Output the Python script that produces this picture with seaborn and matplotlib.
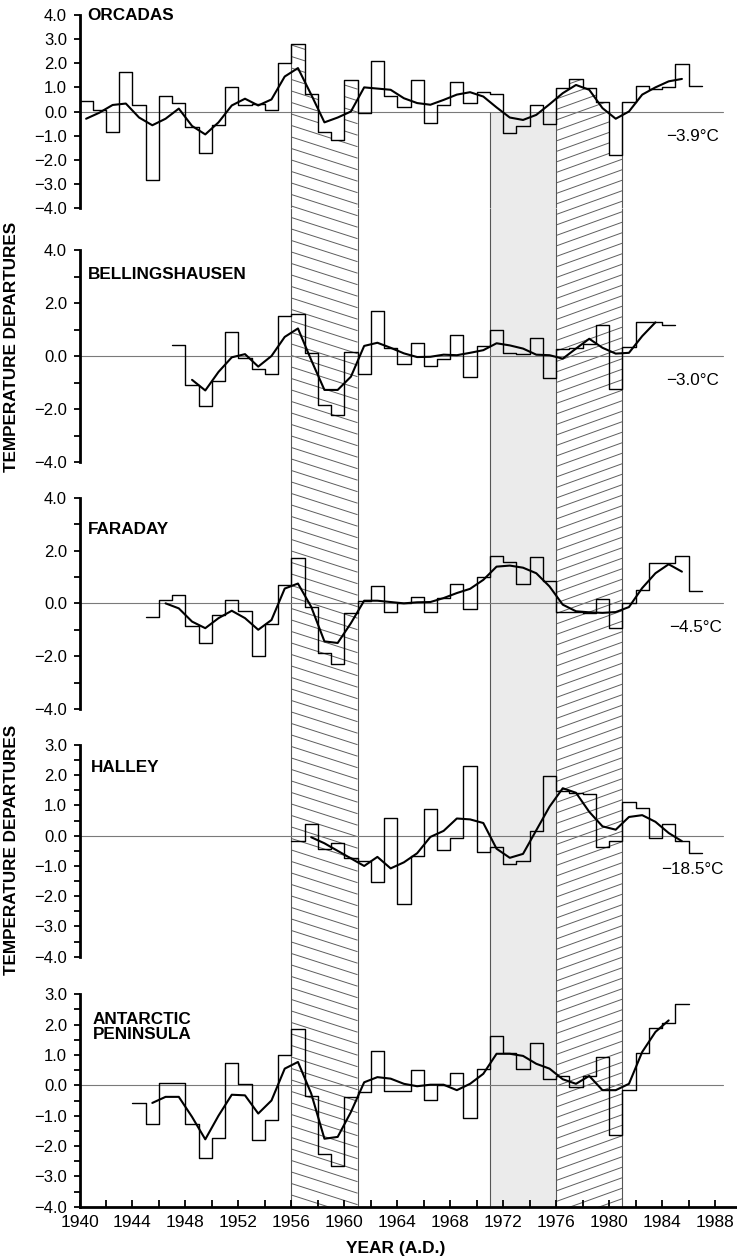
import numpy as np
import matplotlib
matplotlib.use("Agg")
import matplotlib.pyplot as plt
from matplotlib.collections import LineCollection
from matplotlib.patches import Rectangle, Polygon
from matplotlib.ticker import MultipleLocator, FuncFormatter
import seaborn as sns

# ------------------------------------------------------------------ data
stations = ["ORCADAS", "BELLINGSHAUSEN", "FARADAY", "HALLEY", "ANTARCTIC\nPENINSULA"]
mean_labels = ["\u22123.9\u00b0C", "\u22123.0\u00b0C", "\u22124.5\u00b0C", "\u221218.5\u00b0C", None]

orcadas_first_year = 1940
orcadas_annual = [0.45, 0.05, -0.84, 1.63, 0.26, -2.83, 0.65, 0.37, -0.66, -1.74,
                  -0.58, 1.0, 0.25, 0.3, 0.05, 2.03, 2.8, 0.72, -0.87, -1.17,
                  1.3, -0.05, 2.1, 0.66, 0.18, 1.32, -0.47, 0.28, 1.24, 0.34,
                  0.8, 0.73, -0.88, -0.59, 0.28, -0.52, 0.98, 1.35, 0.97, 0.39,
                  -1.82, 0.41, 1.05, 0.95, 1.0, 1.95, 1.05]
orcadas_smooth_first = 1940.5
orcadas_smooth = [-0.3, -0.05, 0.27, 0.33, -0.25, -0.57, -0.3, 0.12, -0.6, -0.95,
                  -0.45, 0.25, 0.53, 0.25, 0.5, 1.45, 1.8, 0.7, -0.45, -0.25,
                  0.0, 1.0, 0.95, 0.9, 0.55, 0.35, 0.28, 0.48, 0.7, 0.8,
                  0.62, 0.17, -0.25, -0.35, -0.14, 0.3, 0.76, 1.1, 0.9, 0.14,
                  -0.3, 0.0, 0.7, 1.0, 1.25, 1.35]

bellings_first_year = 1947
bellings_annual = [0.42, -1.11, -1.9, -0.93, 0.91, -0.09, -0.5, -0.69, 1.5, 1.6,
                   0.1, -1.86, -2.24, 0.16, -0.69, 1.69, 0.29, -0.29, 0.48, -0.38,
                   -0.1, 0.79, -0.81, 0.38, 0.98, 0.1, 0.08, 0.68, -0.84, 0.28,
                   0.3, 0.45, 1.16, -1.25, 0.35, 1.29, 1.29, 1.16]
bellings_smooth_first = 1948.5
bellings_smooth = [-0.9, -1.3, -0.6, -0.05, 0.07, -0.4, 0.0, 0.72, 1.04, -0.15,
                   -1.28, -1.28, -0.78, 0.38, 0.5, 0.31, 0.1, -0.04, -0.03, 0.05,
                   0.03, 0.12, 0.22, 0.48, 0.4, 0.28, 0.05, 0.03, -0.1, 0.28,
                   0.65, 0.31, 0.09, 0.12, 0.75, 1.27]

faraday_first_year = 1945
faraday_annual = [-0.5, 0.12, 0.31, -0.85, -1.5, -0.46, 0.12, -0.28, -1.98, -0.78,
                  0.69, 1.72, -0.13, -1.88, -2.31, -0.35, 0.1, 0.64, -0.33, 0.0,
                  0.23, -0.33, 0.2, 0.73, -0.2, 0.98, 1.8, 1.55, 0.75, 1.75,
                  0.83, -0.33, -0.33, -0.38, 0.18, -0.93, 0.0, 0.5, 1.51, 1.51,
                  1.79, 0.48]
faraday_smooth_first = 1946.5
faraday_smooth = [0.0, -0.19, -0.69, -0.94, -0.56, -0.28, -0.56, -1.0, -0.63, 0.56,
                  0.75, -0.13, -1.44, -1.5, -0.75, 0.1, 0.1, 0.05, 0.0, 0.04,
                  0.05, 0.2, 0.39, 0.55, 0.89, 1.39, 1.43, 1.35, 1.14, 0.64,
                  -0.05, -0.3, -0.34, -0.36, -0.33, -0.14, 0.58, 1.14, 1.48, 1.2]

halley_first_year = 1956
halley_annual = [-0.19, 0.4, -0.44, -0.24, -0.74, -0.82, -1.54, 0.57, -2.27, -0.66,
                 0.87, -0.46, -0.07, 2.32, -0.54, -0.36, -0.93, -0.84, 0.16, 1.96,
                 1.49, 1.42, 1.37, -0.36, -0.18, 1.12, 0.93, -0.08, 0.4, -0.18,
                 -0.57]
halley_smooth_first = 1957.5
halley_smooth = [-0.05, -0.25, -0.5, -0.75, -1.0, -0.7, -1.08, -0.88, -0.58, -0.04,
                 0.16, 0.57, 0.54, 0.42, -0.43, -0.73, -0.6, 0.18, 0.96, 1.57,
                 1.42, 0.79, 0.31, 0.2, 0.62, 0.68, 0.46, 0.09, -0.18]

peninsula_first_year = 1944
peninsula_annual = [-0.57, -1.26, 0.09, 0.09, -1.29, -2.38, -1.73, 0.75, 0.05, -1.79,
                    -1.15, 0.99, 1.84, -0.36, -2.27, -2.67, -0.38, -0.22, 1.12, -0.2,
                    -0.2, 0.5, -0.49, 0.02, 0.42, -1.08, 0.55, 1.63, 1.08, 0.55,
                    1.41, 0.22, 0.31, -0.05, 0.31, 0.93, -1.63, -0.16, 1.08, 1.89,
                    2.05, 2.69]
peninsula_smooth_first = 1945.5
peninsula_smooth = [-0.58, -0.38, -0.38, -1.04, -1.78, -1.0, -0.31, -0.33, -0.93, -0.5,
                    0.55, 0.77, -0.27, -1.76, -1.7, -0.88, 0.1, 0.27, 0.22, 0.05,
                    -0.03, 0.02, 0.02, -0.16, 0.05, 0.38, 1.04, 1.04, 0.97, 0.71,
                    0.55, 0.2, 0.05, 0.31, -0.16, -0.16, 0.05, 1.1, 1.76, 2.14]

hatched_periods = [(1956, 1961, "back"), (1976, 1981, "fwd")]
stippled_periods = [(1971, 1976)]
year_ticks = [1940, 1944, 1948, 1952, 1956, 1960, 1964, 1968, 1972, 1976, 1980, 1984, 1988]

series = [
    (orcadas_first_year, orcadas_annual, orcadas_smooth_first, orcadas_smooth),
    (bellings_first_year, bellings_annual, bellings_smooth_first, bellings_smooth),
    (faraday_first_year, faraday_annual, faraday_smooth_first, faraday_smooth),
    (halley_first_year, halley_annual, halley_smooth_first, halley_smooth),
    (peninsula_first_year, peninsula_annual, peninsula_smooth_first, peninsula_smooth),
]

# ------------------------------------------------------------------ style
sns.set_theme(style="white")
plt.rcParams['font.family'] = ['Liberation Sans', 'DejaVu Sans']
plt.rcParams['axes.unicode_minus'] = True
plt.rcParams['text.color'] = 'black'
plt.rcParams['axes.labelcolor'] = 'black'
plt.rcParams['xtick.color'] = 'black'
plt.rcParams['ytick.color'] = 'black'

W, H = 737, 1260
LEFT = 79.5          # pixel position of 1940
PPY = 13.24          # pixels per year
X0 = 1940
X1 = X0 + (W - LEFT) / PPY
ZERO_END = 1988.6

# (top px, bottom px, ymin, ymax, major step, minor step)
layout = [(15, 208, -4, 4, 1.0, None),
          (250, 462, -4, 4, 2.0, 1.0),
          (497.7, 709, -4, 4, 2.0, 1.0),
          (745, 956.7, -4, 3, 1.0, 0.5),
          (994.3, 1206.7, -4, 3, 1.0, 0.5)]
name_pos = [(1940.57, 4.0), (1940.64, 3.06), (1940.64, 2.81), (1940.85, 2.24), (1941.0, 1.92)]
mean_pos = [(1986.34, -1.02), (1986.3, -0.91), (1986.5, -0.9), (1986.3, -1.13)]

HATCH_C = '#5e5e5e'
EDGE_C = '#555555'
STIP_C = '#ebebeb'

fig = plt.figure(figsize=(W / 100, H / 100), dpi=100)
fig.patch.set_facecolor('white')

bg = fig.add_axes([0, 0, 1, 1], zorder=-1)
bg.set_xlim(X0 - LEFT / PPY, X1)
bg.set_ylim(H, 0)
bg.axis('off')

fmt = FuncFormatter(lambda v, p: f"{0.0 if abs(v) < 1e-9 else v:.1f}".replace('-', '\u2212'))

axes = []
for i, ((top, bot, ymin, ymax, major, minor), (fy, ann, sfy, smo)) in enumerate(zip(layout, series)):
    ax = fig.add_axes([LEFT / W, 1 - bot / H, (W - LEFT) / W, (bot - top) / H])
    ax.set_facecolor('none')
    years = [fy + k for k in range(len(ann))]
    sx = years + [years[-1] + 1]
    sy = ann + [ann[-1]]
    mids = [sfy + k for k in range(len(smo))]
    ax.axhline(0, xmin=0, xmax=(ZERO_END - X0) / (X1 - X0), color='#7a7a7a', lw=0.8, zorder=1)
    sns.lineplot(x=sx, y=sy, ax=ax, color='black', lw=1.0, drawstyle='steps-post',
                 estimator=None, sort=False, zorder=3)
    sns.lineplot(x=mids, y=smo, ax=ax, color='black', lw=1.5, estimator=None,
                 sort=False, zorder=4)
    ax.set_xlim(X0, X1)
    ax.set_ylim(ymin, ymax)
    ax.set_xlabel('')
    ax.set_ylabel('')
    for s in ['top', 'right']:
        ax.spines[s].set_visible(False)
    ax.spines['left'].set_linewidth(2.0)
    ax.spines['left'].set_color('black')
    ax.yaxis.set_major_locator(MultipleLocator(major))
    if minor:
        ax.yaxis.set_minor_locator(MultipleLocator(minor))
    ax.yaxis.set_major_formatter(fmt)
    ax.tick_params(axis='y', which='both', direction='out', length=4, width=1.3,
                   labelsize=12, pad=5, left=True, colors='black')
    if i < 4:
        ax.spines['bottom'].set_visible(False)
        ax.tick_params(axis='x', which='both', bottom=False, labelbottom=False)
    else:
        ax.spines['bottom'].set_linewidth(2.0)
        ax.spines['bottom'].set_color('black')
        ax.set_xticks(year_ticks)
        ax.set_xticklabels([str(y) for y in year_ticks])
        ax.xaxis.set_minor_locator(MultipleLocator(2))
        ax.tick_params(axis='x', which='both', direction='in', length=5, width=1.3,
                       labelsize=12.5, pad=6, bottom=True, colors='black')
    ax.text(name_pos[i][0], name_pos[i][1], stations[i], fontsize=12.3, fontweight='bold',
            ha='left', va='center', linespacing=1.0, zorder=5, color='black')
    if mean_labels[i]:
        ax.text(mean_pos[i][0], mean_pos[i][1], mean_labels[i], fontsize=12.3,
                ha='center', va='center', zorder=5, color='black')
    axes.append(ax)

# ------------------------------------------------------------------ shaded periods
ax1 = axes[0]
p1_bottom = layout[0][1]
axis_bottom = layout[-1][1]
orc = dict(zip([orcadas_first_year + k for k in range(len(orcadas_annual))], orcadas_annual))


def hatch_segments(a, b, slope, spacing):
    segs = []
    for c in np.arange(-300, H + 300, spacing):
        segs.append([(a, c), (b, c + slope * (b - a) * PPY)])
    return segs


for a, b, kind in hatched_periods:
    slope, spacing = (0.32, 11.5) if kind == "back" else (-0.36, 10.5)
    segs = hatch_segments(a, b, slope, spacing)
    rect = Rectangle((a, p1_bottom), b - a, axis_bottom - p1_bottom,
                     facecolor='none', edgecolor='none')
    bg.add_patch(rect)
    lc = LineCollection(segs, colors=HATCH_C, linewidths=0.7)
    bg.add_collection(lc)
    lc.set_clip_path(rect)
    verts = []
    for y in range(a, b):
        verts += [(y, orc[y]), (y + 1, orc[y])]
    verts += [(b, -4), (a, -4)]
    poly = Polygon(verts, closed=True, facecolor='none', edgecolor='none')
    ax1.add_patch(poly)
    lc2 = LineCollection(segs, colors=HATCH_C, linewidths=0.7)
    bg.add_collection(lc2)
    lc2.set_clip_path(poly)

for a, b in stippled_periods:
    bg.add_patch(Rectangle((a, p1_bottom), b - a, axis_bottom - p1_bottom,
                           facecolor=STIP_C, edgecolor='none'))
    ax1.fill_between([a, b], -4, 0, color=STIP_C, lw=0, zorder=0.5)

edges = sorted({e for p in hatched_periods for e in p[:2]} | {e for p in stippled_periods for e in p})
hatch_edges = {e for p in hatched_periods for e in p[:2]}
bg.vlines(edges, p1_bottom, axis_bottom, colors=EDGE_C, lw=0.8)
for e in edges:
    topv = max(orc.get(e, 0), orc.get(e - 1, 0)) if e in hatch_edges else 0
    ax1.vlines(e, -4, topv, colors=EDGE_C, lw=0.8, zorder=2)

# ------------------------------------------------------------------ labels
fig.text(12 / W, 1 - 347 / H, "TEMPERATURE DEPARTURES", rotation=90, ha='center',
         va='center', fontsize=12.3, fontweight='bold', color='black')
fig.text(12 / W, 1 - 850 / H, "TEMPERATURE DEPARTURES", rotation=90, ha='center',
         va='center', fontsize=12.3, fontweight='bold', color='black')
fig.text(396 / W, 1 - 1249 / H, "YEAR (A.D.)", ha='center', va='center',
         fontsize=12.5, fontweight='bold', color='black')

fig.savefig("out.png", dpi=100)
